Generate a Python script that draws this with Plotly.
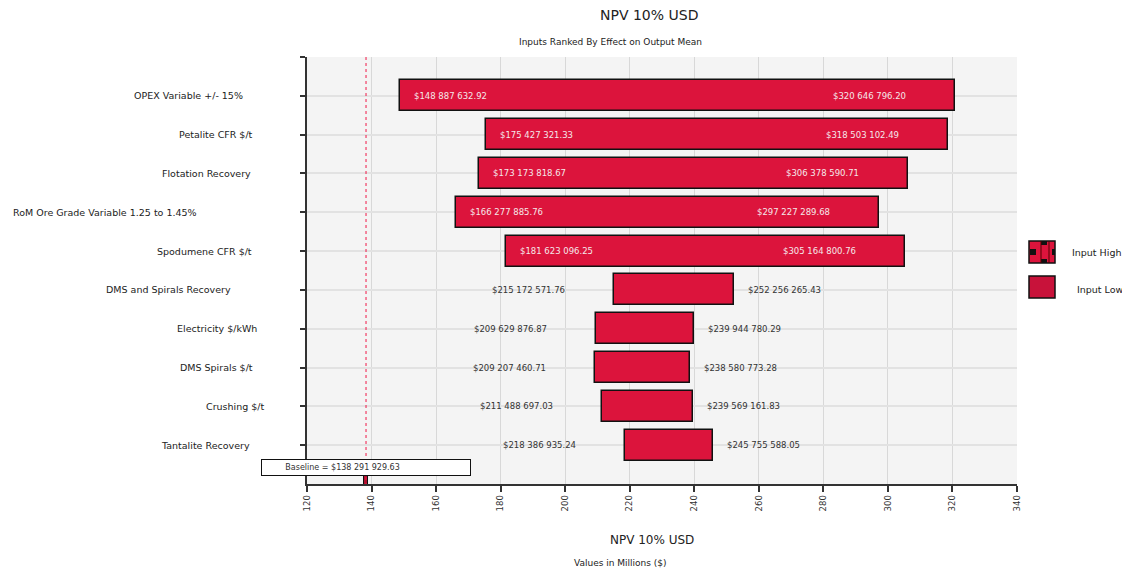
import plotly.graph_objects as go

# ---------------- data ----------------
categories = [
    "OPEX Variable +/- 15%",
    "Petalite CFR $/t",
    "Flotation Recovery",
    "RoM Ore Grade Variable 1.25 to 1.45%",
    "Spodumene CFR $/t",
    "DMS and Spirals Recovery",
    "Electricity $/kWh",
    "DMS Spirals $/t",
    "Crushing $/t",
    "Tantalite Recovery",
]
low_values = [148887632.92, 175427321.33, 173173818.67, 166277885.76, 181623096.25,
              215172571.76, 209629876.87, 209207460.71, 211488697.03, 218386935.24]
high_values = [320646796.20, 318503102.49, 306378590.71, 297227289.68, 305164800.76,
               252256265.43, 239944780.29, 238580773.28, 239569161.83, 245755588.05]
baseline_value = 138291929.63
x_ticks = [120, 140, 160, 180, 200, 220, 240, 260, 280, 300, 320, 340]

# label centre positions (pixels) for the category labels, as drawn in the reference
label_centers_px = [188, 216, 206, 105, 204, 168.5, 216.5, 216.5, 235, 205]

# ---------------- helpers ----------------
L, R, T, B = 307, 1017, 57, 484
W, H = 1122, 569


def px(x):
    return (x - L) / (R - L)


def py(y):
    return (B - y) / (B - T)


def money(v):
    return "$" + f"{v:,.2f}".replace(",", " ")


FONT = "DejaVu Sans"
CRIMSON = "#DC143C"

n = len(categories)
rows = list(range(n))
low_m = [v / 1e6 for v in low_values]
high_m = [v / 1e6 for v in high_values]
base_m = baseline_value / 1e6

fig = go.Figure()

# main tornado bars
fig.add_trace(go.Bar(
    orientation="h",
    y=rows,
    base=low_m,
    x=[h - l for h, l in zip(high_m, low_m)],
    width=0.8,
    marker=dict(color=CRIMSON, line=dict(color="#111111", width=1.5)),
    hoverinfo="skip",
))

# baseline small bar
fig.add_trace(go.Bar(
    orientation="h",
    y=[n],
    base=[base_m - 0.5],
    x=[1.0],
    width=0.4,
    marker=dict(color="#b0102f", line=dict(color="#111111", width=1)),
    hoverinfo="skip",
))

# baseline dotted line
fig.add_trace(go.Scatter(
    x=[base_m, base_m], y=[-1, n], mode="lines",
    line=dict(color="#f01848", width=1, dash="dot"),
    hoverinfo="skip",
))

annotations = []


def ann(**kw):
    kw.setdefault("showarrow", False)
    kw.setdefault("yanchor", "middle")
    kw.setdefault("xanchor", "center")
    annotations.append(kw)


# value labels
for i in rows:
    inside = (high_m[i] - low_m[i]) > 60
    col = "#f4e8ea" if inside else "#333333"
    f = dict(family=FONT, size=8.5, color=col)
    if inside:
        ann(x=low_m[i], y=i, xref="x", yref="y", text=money(low_values[i]),
            xanchor="left", xshift=12, font=f)
        ann(x=high_m[i], y=i, xref="x", yref="y", text=money(high_values[i]),
            xanchor="right", xshift=-47, font=f)
    else:
        ann(x=low_m[i], y=i, xref="x", yref="y", text=money(low_values[i]),
            xanchor="right", xshift=-47, font=f)
        ann(x=high_m[i], y=i, xref="x", yref="y", text=money(high_values[i]),
            xanchor="left", xshift=12, font=f)

# category labels
for i in rows:
    ann(x=px(label_centers_px[i]), y=i, xref="paper", yref="y",
        text=categories[i], font=dict(family=FONT, size=9.5, color="#222222"))

# baseline box
ann(x=base_m, y=py(467), xref="x", yref="paper",
    text="\u00a0" * 8 + "Baseline = " + money(baseline_value),
    align="left", width=202, bgcolor="white", bordercolor="#111111",
    borderwidth=1, borderpad=3, font=dict(family=FONT, size=8, color="#333333"))

# titles
ann(x=px(649), y=py(15), xref="paper", yref="paper", text="NPV 10% USD",
    font=dict(family=FONT, size=14, color="#222222"))
ann(x=px(610), y=py(42), xref="paper", yref="paper",
    text="Inputs Ranked By Effect on Output Mean",
    font=dict(family=FONT, size=9, color="#222222"))
ann(x=px(652), y=py(540), xref="paper", yref="paper", text="NPV 10% USD",
    font=dict(family=FONT, size=12, color="#222222"))
ann(x=px(620), y=py(563), xref="paper", yref="paper", text="Values in Millions ($)",
    font=dict(family=FONT, size=9, color="#222222"))

# legend texts
ann(x=px(1070), y=py(253), xref="paper", yref="paper", text="Input High",
    xanchor="left", font=dict(family=FONT, size=9.5, color="#222222"))
ann(x=px(1075), y=py(289), xref="paper", yref="paper", text="Input Low",
    xanchor="left", font=dict(family=FONT, size=9.5, color="#222222"))

# legend icons
shapes = []
shapes.append(dict(type="rect", xref="paper", yref="paper",
                   x0=px(1029), x1=px(1055), y0=py(263), y1=py(241),
                   fillcolor=CRIMSON, line=dict(color="#111111", width=1.5)))
for (a, b, c, d) in [(1030, 1036, 249, 255), (1041, 1047, 241, 245), (1041, 1047, 259, 263),
                     (1052, 1055, 249, 255)]:
    shapes.append(dict(type="rect", xref="paper", yref="paper",
                       x0=px(a), x1=px(b), y0=py(d), y1=py(c),
                       fillcolor="#111111", line=dict(width=0)))
for xv in [1041, 1049]:
    shapes.append(dict(type="line", xref="paper", yref="paper",
                       x0=px(xv), x1=px(xv), y0=py(263), y1=py(241),
                       line=dict(color="#550000", width=1)))
shapes.append(dict(type="rect", xref="paper", yref="paper",
                   x0=px(1029), x1=px(1055), y0=py(298), y1=py(276),
                   fillcolor="#c8123a", line=dict(color="#111111", width=1.5)))

fig.update_layout(
    width=W, height=H,
    margin=dict(l=L, r=W - R, t=T, b=H - B, pad=0),
    plot_bgcolor="#f4f4f4",
    paper_bgcolor="white",
    showlegend=False,
    bargap=0,
    barmode="overlay",
    annotations=annotations,
    shapes=shapes,
    xaxis=dict(
        range=[120, 340], tickvals=x_ticks, ticktext=[str(t) for t in x_ticks],
        tickangle=-90, ticks="outside", ticklen=6, tickcolor="#333333", tickwidth=1.5,
        showline=True, linecolor="#333333", linewidth=1.5,
        showgrid=True, gridcolor="#d8d8d8", gridwidth=1, zeroline=False,
        tickfont=dict(family=FONT, size=8.5, color="#333333"),
    ),
    yaxis=dict(
        range=[n, -1], tickvals=list(range(-1, n)), showticklabels=False,
        ticks="outside", ticklen=5, tickcolor="#333333", tickwidth=1.5,
        showline=True, linecolor="#333333", linewidth=2,
        showgrid=True, gridcolor="#e2e2e2", gridwidth=1.5, zeroline=False,
    ),
)

fig.write_html("out.html")
